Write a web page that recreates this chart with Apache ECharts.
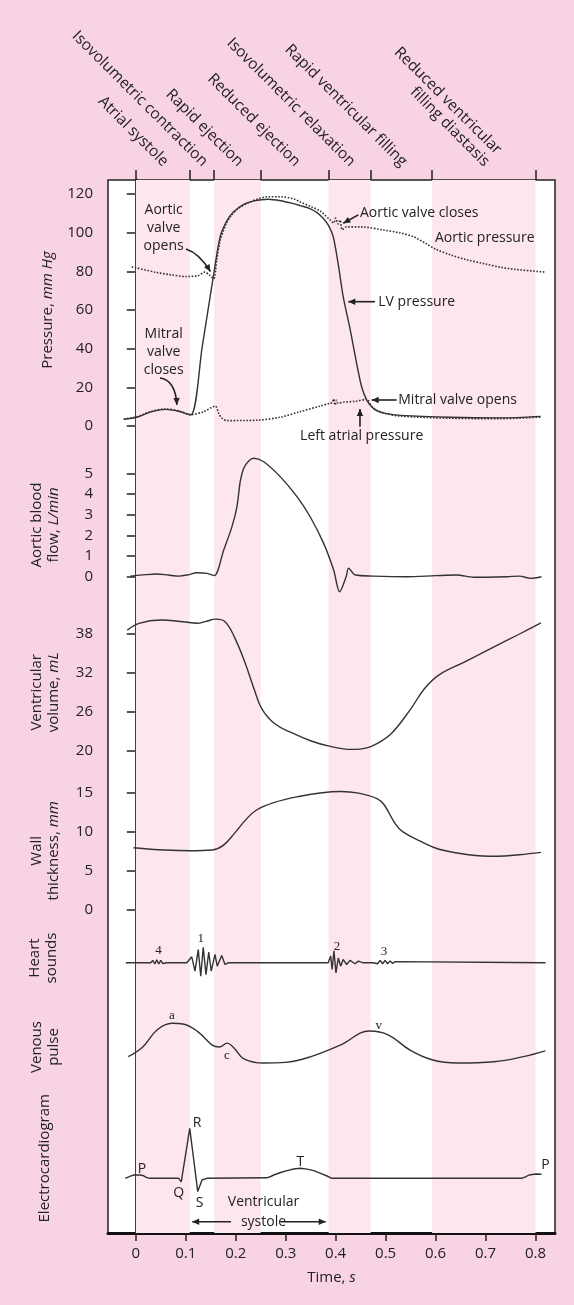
<!DOCTYPE html>
<html>
<head>
<meta charset="utf-8">
<title>Cardiac cycle</title>
<script src="https://cdn.jsdelivr.net/npm/echarts@6/dist/echarts.min.js"></script>
<style>
  html, body { margin: 0; padding: 0; background: #f8d3e3; }
  #chart { width: 574px; height: 1305px; }
</style>
</head>
<body>
<div id="chart"></div>
<script>
// ---- data (time in s) ----
const timeTicks = [0, 0.1, 0.2, 0.3, 0.4, 0.5, 0.6, 0.7, 0.8];
const phaseBounds = [0, 0.108, 0.157, 0.25, 0.386, 0.47, 0.593, 0.8];
const phaseNames = [
  'Atrial systole', 'Isovolumetric contraction', 'Rapid ejection', 'Reduced ejection',
  'Isovolumetric relaxation', 'Rapid ventricular filling', 'Reduced ventricular\nfilling diastasis'
];
const pinkBands = [[0, 0.108], [0.157, 0.25], [0.386, 0.47], [0.593, 0.8]];

const pressureTicks = [0, 20, 40, 60, 80, 100, 120];
const flowTicks = [0, 1, 2, 3, 4, 5];
const volumeTicks = [20, 26, 32, 38];
const wallTicks = [0, 5, 10, 15];

const lvPressure = [
  [-0.024, 3.5], [0.002, 4.5], [0.029, 7.2], [0.059, 8.6], [0.086, 7.6], [0.11, 5.7],
  [0.133, 41], [0.155, 77], [0.169, 98], [0.182, 106], [0.195, 110.5], [0.215, 114.5],
  [0.235, 116.3], [0.265, 117.3], [0.29, 116.5], [0.315, 115], [0.329, 114], [0.345, 112.8],
  [0.362, 110.5], [0.375, 107.5], [0.385, 104], [0.395, 98], [0.405, 84], [0.415, 67],
  [0.429, 50], [0.442, 32.4], [0.452, 20.3], [0.462, 13.5], [0.472, 10], [0.482, 8],
  [0.5, 6.5], [0.53, 5.5], [0.63, 4.5], [0.73, 4.2], [0.81, 5.0]
];
const aorticPressure = [
  [-0.008, 82.3], [0.04, 79.5], [0.07, 78.2], [0.1, 77.3], [0.125, 77.8], [0.138, 79.6],
  [0.148, 78], [0.156, 76.2], [0.162, 86], [0.169, 96], [0.18, 104], [0.19, 108.5],
  [0.205, 112.5], [0.222, 115], [0.245, 117.5], [0.265, 118.6], [0.29, 118.6], [0.316, 117.5],
  [0.33, 115.8], [0.35, 113.5], [0.369, 111.2], [0.389, 106.5], [0.396, 105], [0.4, 107.5],
  [0.405, 104.5], [0.409, 106.5], [0.413, 101.5], [0.422, 103], [0.45, 103], [0.495, 101.4],
  [0.53, 99.8], [0.555, 98], [0.58, 94.5], [0.6, 91.5], [0.63, 88.5], [0.662, 86],
  [0.7, 83.8], [0.73, 82.1], [0.76, 81], [0.82, 79.6]
];
const atrialPressure = [
  [-0.024, 3.7], [0.002, 4.7], [0.029, 7.4], [0.059, 8.8], [0.086, 7.8], [0.11, 5.9],
  [0.136, 7.4], [0.159, 10.3], [0.166, 6.5], [0.1725, 4.0], [0.1825, 2.8], [0.2425, 3.0],
  [0.29, 4.6], [0.33, 7.5], [0.369, 10.3], [0.389, 11.8], [0.393, 12], [0.396, 14],
  [0.399, 10.8], [0.402, 13.3], [0.405, 11.8], [0.415, 12.3], [0.44, 12.8], [0.462, 13.8],
  [0.472, 10.2], [0.482, 8.2], [0.5, 6.4], [0.53, 5.1], [0.63, 4.0], [0.73, 3.8], [0.81, 4.6]
];
const aorticFlow = [
  [-0.011, 0.03], [0.02, 0.1], [0.042, 0.13], [0.065, 0.08], [0.086, 0.03], [0.1025, 0.08],
  [0.1225, 0.19], [0.1425, 0.16], [0.157, 0.05], [0.176, 1.29], [0.1925, 2.42], [0.2025, 3.39],
  [0.209, 4.6], [0.216, 5.24], [0.226, 5.6], [0.236, 5.73], [0.256, 5.56], [0.289, 4.84],
  [0.3226, 3.87], [0.349, 2.9], [0.376, 1.61], [0.396, 0.32], [0.408, -0.73], [0.421, 0.0],
  [0.426, 0.41], [0.4393, 0.08], [0.476, 0.03], [0.543, 0], [0.6, 0.05], [0.643, 0.08],
  [0.676, -0.03], [0.743, 0], [0.768, 0.03], [0.79, -0.08], [0.812, 0]
];
const ventVolume = [
  [-0.017, 38.6], [0.0066, 39.65], [0.05, 40.16], [0.0945, 39.9], [0.124, 39.65], [0.1385, 39.9],
  [0.1605, 40.3], [0.1787, 39.9], [0.197, 37.6], [0.219, 33.5], [0.2373, 29.4], [0.252, 26.5],
  [0.2776, 24.2], [0.314, 22.7], [0.351, 21.5], [0.3874, 20.7], [0.4315, 20.2], [0.4607, 20.4],
  [0.4827, 21.1], [0.5121, 22.7], [0.549, 26.3], [0.578, 29.6], [0.607, 31.7], [0.6585, 33.7],
  [0.717, 36.0], [0.768, 38.0], [0.811, 39.7]
];
const wallThickness = [
  [-0.0044, 7.9], [0.058, 7.6], [0.109, 7.5], [0.153, 7.6], [0.175, 8.2], [0.197, 9.7],
  [0.219, 11.4], [0.241, 12.7], [0.2776, 13.7], [0.329, 14.5], [0.373, 14.95], [0.4095, 15.1],
  [0.446, 14.9], [0.4827, 14.2], [0.497, 13.4], [0.519, 11.0], [0.534, 9.95], [0.5705, 8.7],
  [0.607, 7.7], [0.666, 7.0], [0.7245, 6.8], [0.768, 7.0], [0.811, 7.3]
];
const heartSounds = [
  [-0.02, 0], [0.03, 0], [0.034, 0.1], [0.038, -0.05], [0.042, 0.12], [0.046, -0.05], [0.05, 0.1],
  [0.054, -0.03], [0.058, 0.05], [0.062, 0], [0.102, 0], [0.112, 0.25], [0.1185, -0.35],
  [0.125, 0.55], [0.13, -0.56], [0.135, 0.65], [0.1405, -0.49], [0.146, 0.45], [0.151, -0.35],
  [0.1585, 0.35], [0.163, -0.14], [0.172, 0.3], [0.1785, -0.07], [0.185, 0], [0.385, 0],
  [0.39, 0.28], [0.393, -0.28], [0.3966, 0.5], [0.4006, -0.42], [0.4053, 0.2], [0.41, -0.14],
  [0.415, 0.14], [0.422, -0.07], [0.4287, 0.1], [0.4387, -0.04], [0.4454, 0.07], [0.455, 0],
  [0.475, 0], [0.479, 0.08], [0.484, -0.04], [0.489, 0.1], [0.494, -0.04], [0.499, 0.1],
  [0.504, -0.04], [0.509, 0.08], [0.514, -0.03], [0.519, 0.05], [0.523, 0], [0.82, 0]
];
const venousPulse = [
  [-0.015, 3.5], [0.014, 5.0], [0.043, 7.7], [0.0725, 8.7], [0.0945, 8.6], [0.124, 7.4],
  [0.153, 5.3], [0.168, 5.0], [0.1824, 5.6], [0.197, 4.8], [0.2154, 3.2], [0.2556, 2.5],
  [0.2996, 2.6], [0.3508, 3.5], [0.4095, 5.3], [0.468, 7.5], [0.505, 6.9], [0.549, 4.5],
  [0.5926, 3.0], [0.644, 2.5], [0.717, 2.7], [0.7757, 3.5], [0.8197, 4.4]
];
const ecg = [
  [-0.021, 0], [-0.012, 0.2], [-0.004, 0.33], [0.009, 0.33], [0.016, 0.25], [0.021, 0.1],
  [0.028, 0], [0.086, 0], [0.091, -0.35], [0.108, 5.0], [0.124, -1.33], [0.1325, -0.17],
  [0.1425, 0], [0.2625, 0.05], [0.27, 0.18], [0.276, 0.33], [0.29, 0.58], [0.3026, 0.77],
  [0.316, 0.93], [0.329, 1.0], [0.343, 0.92], [0.356, 0.77], [0.37, 0.5], [0.3826, 0.23],
  [0.3926, 0], [0.772, 0], [0.78, 0.15], [0.787, 0.33], [0.801, 0.43], [0.812, 0.4]
];

// ---- layout ----
const FONT = 'Open Sans';
const INK = '#222';
const XMIN = -0.0556, XMAX = 0.839;
const L = 108, R = 19;
const panels = [
  { top: 180, bottom: 72 },        // frame
  { top: 194, height: 232 },       // pressure
  { top: 473.3, height: 103.4 },   // aortic flow
  { top: 634, height: 116.7 },     // volume
  { top: 792.3, height: 117 },     // wall thickness
  { top: 934, height: 48 },        // heart sounds
  { top: 1015, height: 64 },       // venous pulse
  { top: 1098.3, height: 120 }     // ECG
];

const chart = echarts.init(document.getElementById('chart'));

const grids = panels.map((p, i) => Object.assign({ left: L, right: R }, p,
  i === 0 ? { show: true, backgroundColor: '#fff', borderColor: '#222', borderWidth: 1.5 } : {}));

const xAxes = panels.map((p, i) => ({
  type: 'value', gridIndex: i, min: XMIN, max: XMAX,
  show: i === 0,
  axisLine: { show: true, onZero: false, lineStyle: { color: '#111', width: 3 } },
  axisTick: { show: true, length: 8, customValues: timeTicks, lineStyle: { color: '#222', width: 1.5 } },
  axisLabel: { show: true, customValues: timeTicks, margin: 13, fontSize: 15, color: INK, fontFamily: FONT },
  splitLine: { show: false },
  name: i === 0 ? 'Time, {i|s}' : '',
  nameLocation: 'middle', nameGap: 37,
  nameTextStyle: { fontSize: 15, color: INK, fontFamily: FONT,
    rich: { i: { fontStyle: 'italic', fontSize: 15, color: INK, fontFamily: FONT } } }
}));
// phase boundary ticks above the frame
xAxes.push({
  type: 'value', gridIndex: 0, min: XMIN, max: XMAX, position: 'top',
  axisLine: { show: false, onZero: false },
  axisTick: { show: true, length: 10, customValues: phaseBounds, lineStyle: { color: '#222', width: 1.5 } },
  axisLabel: { show: false }, splitLine: { show: false }
});

const nameStyle = {
  fontSize: 15, color: INK, fontFamily: FONT, lineHeight: 17,
  rich: { i: { fontStyle: 'italic', fontSize: 15, color: INK, fontFamily: FONT, lineHeight: 17 } }
};
function panelAxis(i, name, gap, min, max, ticks) {
  const withTicks = !!ticks;
  return {
    type: 'value', gridIndex: i, min: min, max: max,
    name: name, nameLocation: 'middle', nameGap: gap, nameTextStyle: nameStyle,
    axisLine: { show: false },
    axisTick: { show: withTicks, length: 9, customValues: ticks, lineStyle: { color: '#222', width: 1.5 } },
    axisLabel: { show: withTicks, customValues: ticks, margin: 15, fontSize: 15, color: INK, fontFamily: FONT },
    splitLine: { show: false }
  };
}
const yAxes = [
  { type: 'value', gridIndex: 0, min: 0, max: 1,
    axisLine: { show: true, lineStyle: { color: '#111', width: 3 } },
    axisTick: { show: false }, axisLabel: { show: false }, splitLine: { show: false } },
  panelAxis(1, 'Pressure, {i|mm Hg}', 46, 0, 120, pressureTicks),
  panelAxis(2, 'Aortic blood\nflow, {i|L/min}', 46, 0, 5, flowTicks),
  panelAxis(3, 'Ventricular\nvolume, {i|mL}', 46, 20, 38, volumeTicks),
  panelAxis(4, 'Wall\nthickness, {i|mm}', 46, 0, 15, wallTicks),
  panelAxis(5, 'Heart\nsounds', 48, -0.8, 1.2, null),
  panelAxis(6, 'Venous\npulse', 46, 0, 10, null),
  panelAxis(7, 'Electrocardiogram', 55, -4, 8, null)
];

function curve(i, data, smooth, dotted) {
  return {
    type: 'line', xAxisIndex: i, yAxisIndex: i, data: data,
    symbol: 'none', smooth: smooth, clip: false, silent: true,
    lineStyle: { color: '#333', width: dotted ? 1.6 : 1.4, type: dotted ? [1.6, 1.6] : 'solid' }
  };
}

const series = [
  {
    type: 'line', xAxisIndex: 0, yAxisIndex: 0, data: [], silent: true,
    markArea: {
      silent: true,
      itemStyle: { color: '#fde6ee' },
      data: pinkBands.map(b => [{ xAxis: b[0] }, { xAxis: b[1] }])
    }
  },
  curve(1, aorticPressure, 0.3, true),
  curve(1, atrialPressure, 0.3, true),
  curve(1, lvPressure, 0.3, false),
  curve(2, aorticFlow, 0.3, false),
  curve(3, ventVolume, 0.4, false),
  curve(4, wallThickness, 0.4, false),
  curve(5, heartSounds, false, false),
  curve(6, venousPulse, 0.4, false),
  curve(7, ecg, false, false)
];

chart.setOption({
  backgroundColor: '#f8d3e3',
  animation: false,
  grid: grids,
  xAxis: xAxes,
  yAxis: yAxes,
  series: series
});

// ---- annotations (placed in data coordinates of each panel) ----
// [grid, t, value, text, align, fontSize, family]
const notes = [
  [1, 0.0558, 102.2, 'Aortic\nvalve\nopens', 'center', 14],
  [1, 0.0558, 38.4, 'Mitral\nvalve\ncloses', 'center', 14],
  [1, 0.4487, 110, 'Aortic valve closes', 'left', 14],
  [1, 0.5988, 97.1, 'Aortic pressure', 'left', 14],
  [1, 0.4853, 64.3, 'LV pressure', 'left', 14],
  [1, 0.5253, 13.45, 'Mitral valve opens', 'left', 14],
  [1, 0.4521, -5.0, 'Left atrial pressure', 'center', 14],
  [5, 0.0454, 0.53, '4', 'center', 13, 'serif'],
  [5, 0.1299, 1.02, '1', 'center', 13, 'serif'],
  [5, 0.4026, 0.67, '2', 'center', 13, 'serif'],
  [5, 0.497, 0.46, '3', 'center', 13, 'serif'],
  [6, 0.0724, 9.84, 'a', 'center', 13, 'serif'],
  [6, 0.1823, 3.6, 'c', 'center', 13, 'serif'],
  [6, 0.4863, 8.4, 'v', 'center', 13, 'serif'],
  [7, 0.0124, 0.9, 'P', 'center', 14],
  [7, 0.0859, -1.5, 'Q', 'center', 14],
  [7, 0.1225, 5.5, 'R', 'center', 14],
  [7, 0.1279, -2.44, 'S', 'center', 14],
  [7, 0.3292, 1.66, 'T', 'center', 14],
  [7, 0.8197, 1.33, 'P', 'center', 14],
  [7, 0.2556, -2.34, 'Ventricular', 'center', 14],
  [7, 0.2556, -4.34, 'systole', 'center', 14]
];
// [grid, start, end, control]
const arrows = [
  [1, [0.1005, 91.6], [0.1495, 79.9], [0.126, 89.6]],
  [1, [0.0484, 24.8], [0.0824, 10.9], [0.079, 23.8]],
  [1, [0.4453, 109.2], [0.4153, 104.9], null],
  [1, [0.4787, 64.3], [0.4253, 64.3], null],
  [1, [0.5221, 13.45], [0.4721, 13.45], null],
  [1, [0.4487, -0.36], [0.4487, 8.8], null],
  [7, [0.1905, -4.34], [0.1129, -4.34], null],
  [7, [0.2906, -4.34], [0.3802, -4.34], null]
];

function px(g, t, v) { return chart.convertToPixel({ gridIndex: g }, [t, v]); }

const graphics = [];
notes.forEach(n => {
  const p = px(n[0], n[1], n[2]);
  graphics.push({
    type: 'text', x: p[0], y: p[1], silent: true, z: 100,
    style: {
      text: n[3], align: n[4], verticalAlign: 'middle', fill: INK,
      fontSize: n[5], lineHeight: n[5] + 4,
      fontFamily: n[6] === 'serif' ? 'Liberation Serif' : FONT
    }
  });
});
arrows.forEach(a => {
  const s = px(a[0], a[1][0], a[1][1]);
  const e = px(a[0], a[2][0], a[2][1]);
  const c = a[3] ? px(a[0], a[3][0], a[3][1]) : null;
  if (c) {
    graphics.push({ type: 'bezierCurve', silent: true, z: 100,
      shape: { x1: s[0], y1: s[1], x2: e[0], y2: e[1], cpx1: c[0], cpy1: c[1] },
      style: { stroke: '#222', lineWidth: 1.6, fill: null } });
  } else {
    graphics.push({ type: 'line', silent: true, z: 100,
      shape: { x1: s[0], y1: s[1], x2: e[0], y2: e[1] },
      style: { stroke: '#222', lineWidth: 1.6 } });
  }
  const from = c || s;
  const ang = Math.atan2(e[1] - from[1], e[0] - from[0]);
  const len = 7, w = 3.2;
  const bx = e[0] - len * Math.cos(ang), by = e[1] - len * Math.sin(ang);
  graphics.push({ type: 'polygon', silent: true, z: 101,
    shape: { points: [[e[0], e[1]],
      [bx - w * Math.sin(ang), by + w * Math.cos(ang)],
      [bx + w * Math.sin(ang), by - w * Math.cos(ang)]] },
    style: { fill: '#222' } });
});
// rotated phase names, anchored above the centre of each phase
phaseNames.forEach((name, k) => {
  const mid = (phaseBounds[k] + phaseBounds[k + 1]) / 2;
  const p = px(0, mid, 1);
  graphics.push({
    type: 'text', x: p[0] - 3, y: 170, rotation: -Math.PI / 4, silent: true,
    style: { text: name, align: 'right', verticalAlign: 'bottom', fill: INK,
      fontSize: 15.5, lineHeight: 17, fontFamily: FONT }
  });
});

chart.setOption({ graphic: graphics });
window.addEventListener('resize', () => chart.resize());
</script>
</body>
</html>
